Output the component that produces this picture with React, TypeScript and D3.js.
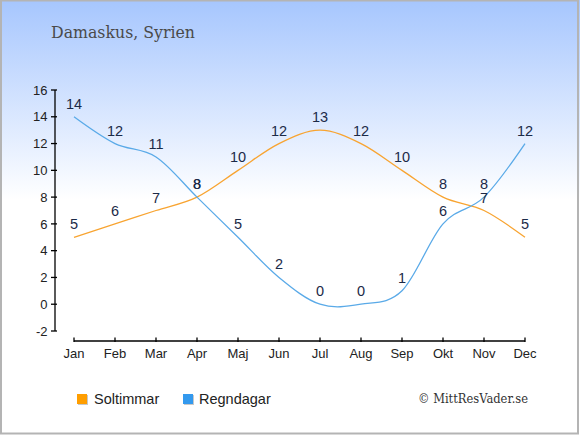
import React from "react";
import * as d3 from "d3";

const months = ["Jan", "Feb", "Mar", "Apr", "Maj", "Jun", "Jul", "Aug", "Sep", "Okt", "Nov", "Dec"];
const soltimmar = [5, 6, 7, 8, 10, 12, 13, 12, 10, 8, 7, 5];
const regndagar = [14, 12, 11, 8, 5, 2, 0, 0, 1, 6, 8, 12];
const yTicks = [-2, 0, 2, 4, 6, 8, 10, 12, 14, 16];
const title = "Damaskus, Syrien";
const seriesNames = ["Soltimmar", "Regndagar"];

const W = 580;
const H = 435;

export default function App() {
  const x = d3.scalePoint<string>().domain(months).range([74, 525]);
  const y = d3.scaleLinear().domain([-2, 16]).range([331, 90]);
  const line = d3
    .line<number>()
    .x((_, i) => x(months[i]) as number)
    .y((d) => y(d))
    .curve(d3.curveCardinal.tension(0));

  const labelColor = "#1c2a48";
  const sunColor = "#f8a431";
  const rainColor = "#5aaae8";
  const axisY = 341;

  return (
    <svg
      width={W}
      height={H}
      style={{ position: "absolute", left: 0, top: 0 }}
      fontFamily="'Liberation Sans', Arial, sans-serif"
    >
      <defs>
        <linearGradient id="bg" x1="0" y1="0" x2="0" y2="1">
          <stop offset="0" stopColor="#a6c6fe" />
          <stop offset="1" stopColor="#ffffff" />
        </linearGradient>
      </defs>
      <rect x={0} y={0} width={W} height={H} fill="#ffffff" />
      <rect x={0} y={0} width={W} height={200} fill="url(#bg)" />
      <rect x={1} y={0.5} width={577} height={433} fill="none" stroke="#b4b4b4" strokeWidth={2} />

      <text
        x={51}
        y={38}
        fontFamily="'DejaVu Serif', serif"
        fontSize={16.5}
        textLength={144}
        lengthAdjust="spacingAndGlyphs"
        fill="#4a4a4a"
      >
        {title}
      </text>

      {/* y axis */}
      <line x1={55} x2={55} y1={y(16)} y2={y(-2)} stroke="#000" strokeWidth={1.3} />
      {yTicks.map((t) => (
        <g key={t}>
          <line x1={51} x2={57} y1={y(t)} y2={y(t)} stroke="#000" strokeWidth={1.3} />
          <text x={47.5} y={y(t) + 4.7} textAnchor="end" fontSize={13} fill="#222">
            {t}
          </text>
        </g>
      ))}

      {/* x axis */}
      <line x1={x("Jan")} x2={x("Dec")} y1={axisY} y2={axisY} stroke="#000" strokeWidth={1.3} />
      {months.map((m) => (
        <g key={m}>
          <line x1={x(m)} x2={x(m)} y1={axisY - 3.5} y2={axisY + 1} stroke="#000" strokeWidth={1.3} />
          <text x={x(m)} y={357.5} textAnchor="middle" fontSize={13} fill="#222">
            {m}
          </text>
        </g>
      ))}

      <path d={line(soltimmar) || ""} fill="none" stroke={sunColor} strokeWidth={1.3} />
      <path d={line(regndagar) || ""} fill="none" stroke={rainColor} strokeWidth={1.3} />

      {soltimmar.map((v, i) => (
        <text key={"s" + i} x={x(months[i])} y={y(v) - 8} textAnchor="middle" fontSize={14.5} fill={labelColor}>
          {v}
        </text>
      ))}
      {regndagar.map((v, i) => (
        <text key={"r" + i} x={x(months[i])} y={y(v) - 8} textAnchor="middle" fontSize={14.5} fill={labelColor}>
          {v}
        </text>
      ))}

      {/* legend */}
      <rect x={78} y={395} width={10} height={10} fill="#c8c8c8" />
      <rect x={77} y={394} width={10} height={10} fill="#ff9e00" />
      <text x={94} y={404} fontSize={14.5} fill="#222">
        {seriesNames[0]}
      </text>
      <rect x={184} y={395} width={10} height={10} fill="#c8c8c8" />
      <rect x={183} y={394} width={10} height={10} fill="#3399ee" />
      <text x={199} y={404} fontSize={14.5} fill="#222">
        {seriesNames[1]}
      </text>

      <text
        x={418}
        y={403}
        fontFamily="'DejaVu Serif', serif"
        fontSize={12.4}
        textLength={110}
        lengthAdjust="spacingAndGlyphs"
        fill="#333"
      >
        © MittResVader.se
      </text>
    </svg>
  );
}
